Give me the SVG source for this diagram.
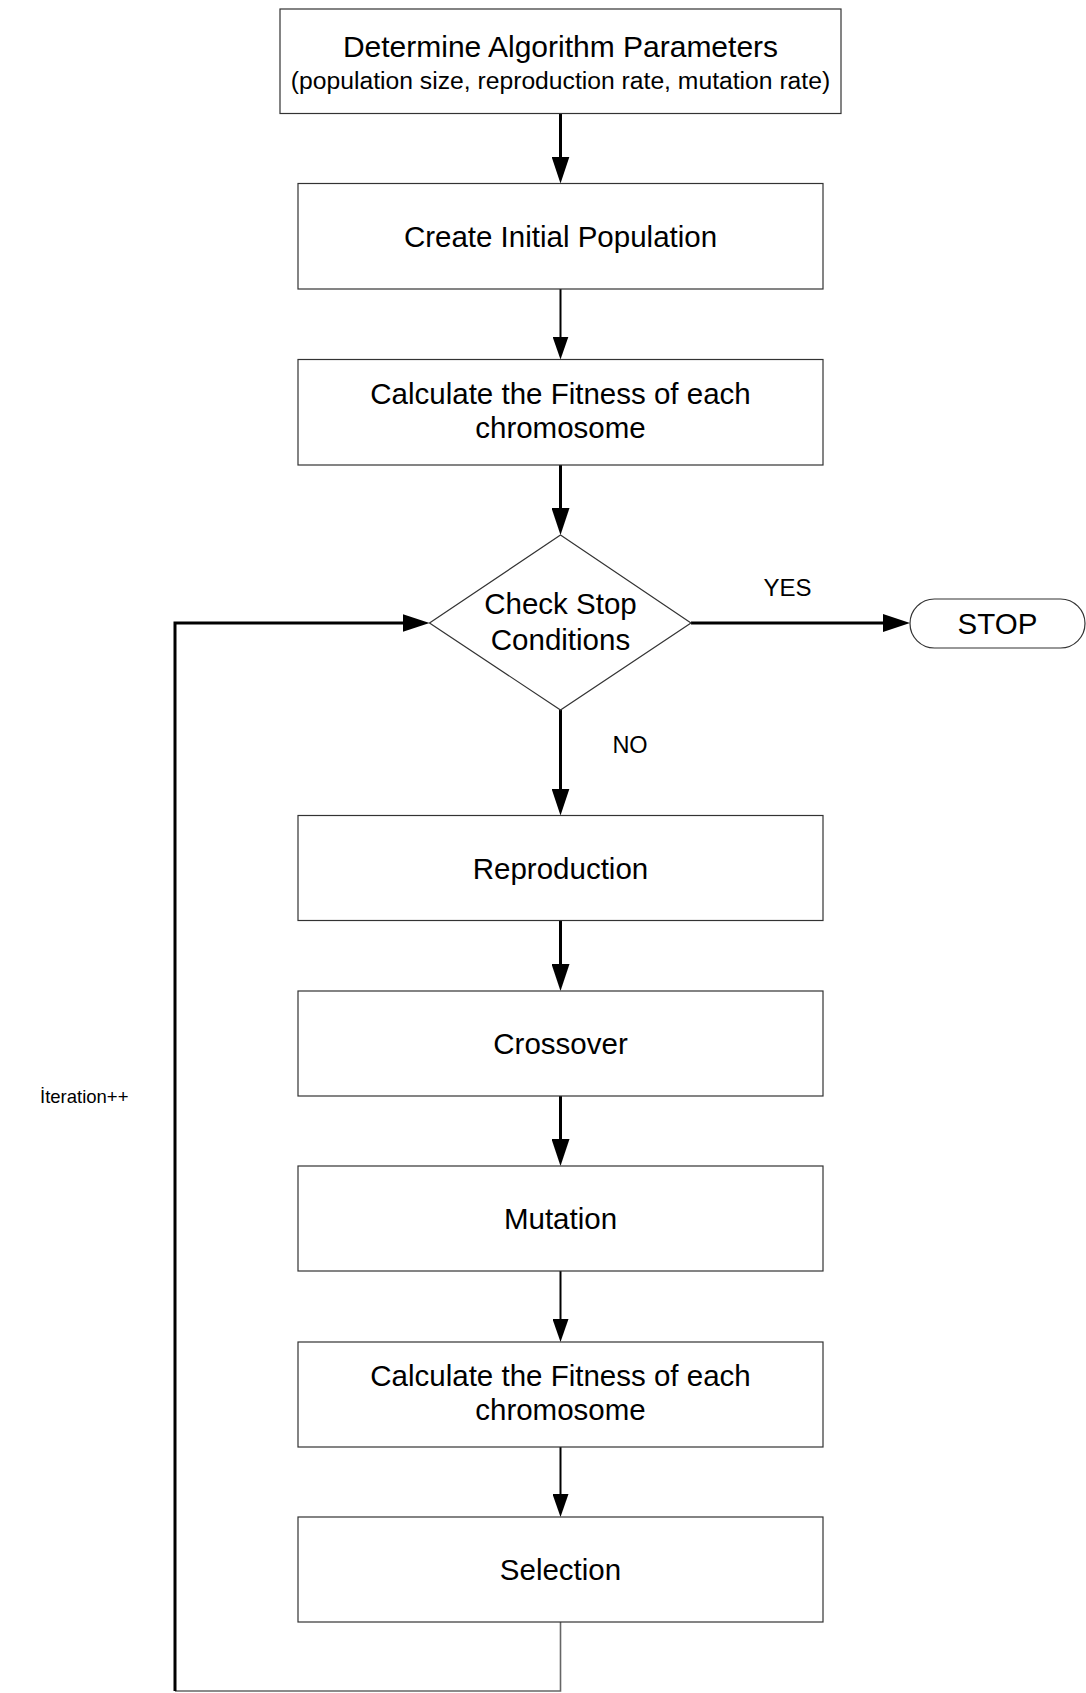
<svg xmlns="http://www.w3.org/2000/svg" width="1086" height="1693" viewBox="0 0 1086 1693">
<style>
.box{fill:#fff;stroke:#333;stroke-width:1.2}
.t{font-family:"Liberation Sans",Arial,sans-serif;font-size:29.5px;fill:#000;text-anchor:middle}
.s{font-family:"Liberation Sans",Arial,sans-serif;fill:#000}
.thick{fill:none;stroke:#000;stroke-width:3}
.thin{fill:none;stroke:#000;stroke-width:2}
.gray{fill:none;stroke:#666;stroke-width:1.6}
</style>
<defs>
<marker id="ah" markerUnits="userSpaceOnUse" markerWidth="27" markerHeight="18" refX="17" refY="9" orient="auto"><path d="M0,0 L27,9 L0,18 z" fill="#000"/></marker>
<marker id="ahs" markerUnits="userSpaceOnUse" markerWidth="23" markerHeight="16" refX="13" refY="8" orient="auto"><path d="M0,0 L23,8 L0,16 z" fill="#000"/></marker>
</defs>
<rect width="1086" height="1693" fill="#fff"/>
<g id="connectors">
<path class="thick" d="M560.5,114 V173.5" marker-end="url(#ah)"/>
<path class="thin" d="M560.5,289 V349.5" marker-end="url(#ahs)"/>
<path class="thick" d="M560.5,465 V525" marker-end="url(#ah)"/>
<path class="thick" d="M560.5,710 V805.5" marker-end="url(#ah)"/>
<path class="thick" d="M560.5,920.5 V981" marker-end="url(#ah)"/>
<path class="thick" d="M560.5,1096 V1156" marker-end="url(#ah)"/>
<path class="thin" d="M560.5,1271 V1332" marker-end="url(#ahs)"/>
<path class="thin" d="M560.5,1447 V1507" marker-end="url(#ahs)"/>
<path class="gray" d="M560.5,1622 V1691 H175"/>
<path class="thick" d="M175,1691 V623 H419.5" marker-end="url(#ah)"/>
<path class="thick" d="M691,623 H900" marker-end="url(#ah)"/>
<text class="s" x="787.5" y="595.5" font-size="24" text-anchor="middle">YES</text>
<text class="s" x="630" y="753" font-size="23.5" text-anchor="middle">NO</text>
<text class="s" x="40" y="1103" font-size="18.5">İteration++</text>
</g>
<g id="params">
<rect class="box" x="280" y="9" width="561" height="104.5"/>
<text class="t" x="560.5" y="57" style="font-size:30px">Determine Algorithm Parameters</text>
<text class="t" x="560.5" y="89" style="font-size:24.7px">(population size, reproduction rate, mutation rate)</text>
</g>
<g id="init">
<rect class="box" x="298" y="183.5" width="525" height="105.5"/>
<text class="t" x="560.5" y="246.5">Create Initial Population</text>
</g>
<g id="fitness1">
<rect class="box" x="298" y="359.5" width="525" height="105.5"/>
<text class="t" x="560.5" y="403.5">Calculate the Fitness of each</text>
<text class="t" x="560.5" y="438">chromosome</text>
</g>
<g id="check">
<polygon class="box" points="560.5,535 691,623 560.5,710 429.5,623"/>
<text class="t" x="560.5" y="613.5">Check Stop</text>
<text class="t" x="560.5" y="649.5">Conditions</text>
</g>
<g id="stop">
<rect class="box" x="910" y="599" width="175" height="49" rx="24.5"/>
<text class="t" x="997.5" y="634">STOP</text>
</g>
<g id="reproduction">
<rect class="box" x="298" y="815.5" width="525" height="105"/>
<text class="t" x="560.5" y="878.5">Reproduction</text>
</g>
<g id="crossover">
<rect class="box" x="298" y="991" width="525" height="105"/>
<text class="t" x="560.5" y="1053.5">Crossover</text>
</g>
<g id="mutation">
<rect class="box" x="298" y="1166" width="525" height="105"/>
<text class="t" x="560.5" y="1229">Mutation</text>
</g>
<g id="fitness2">
<rect class="box" x="298" y="1342" width="525" height="105"/>
<text class="t" x="560.5" y="1385.5">Calculate the Fitness of each</text>
<text class="t" x="560.5" y="1420">chromosome</text>
</g>
<g id="selection">
<rect class="box" x="298" y="1517" width="525" height="105"/>
<text class="t" x="560.5" y="1580">Selection</text>
</g>
</svg>
